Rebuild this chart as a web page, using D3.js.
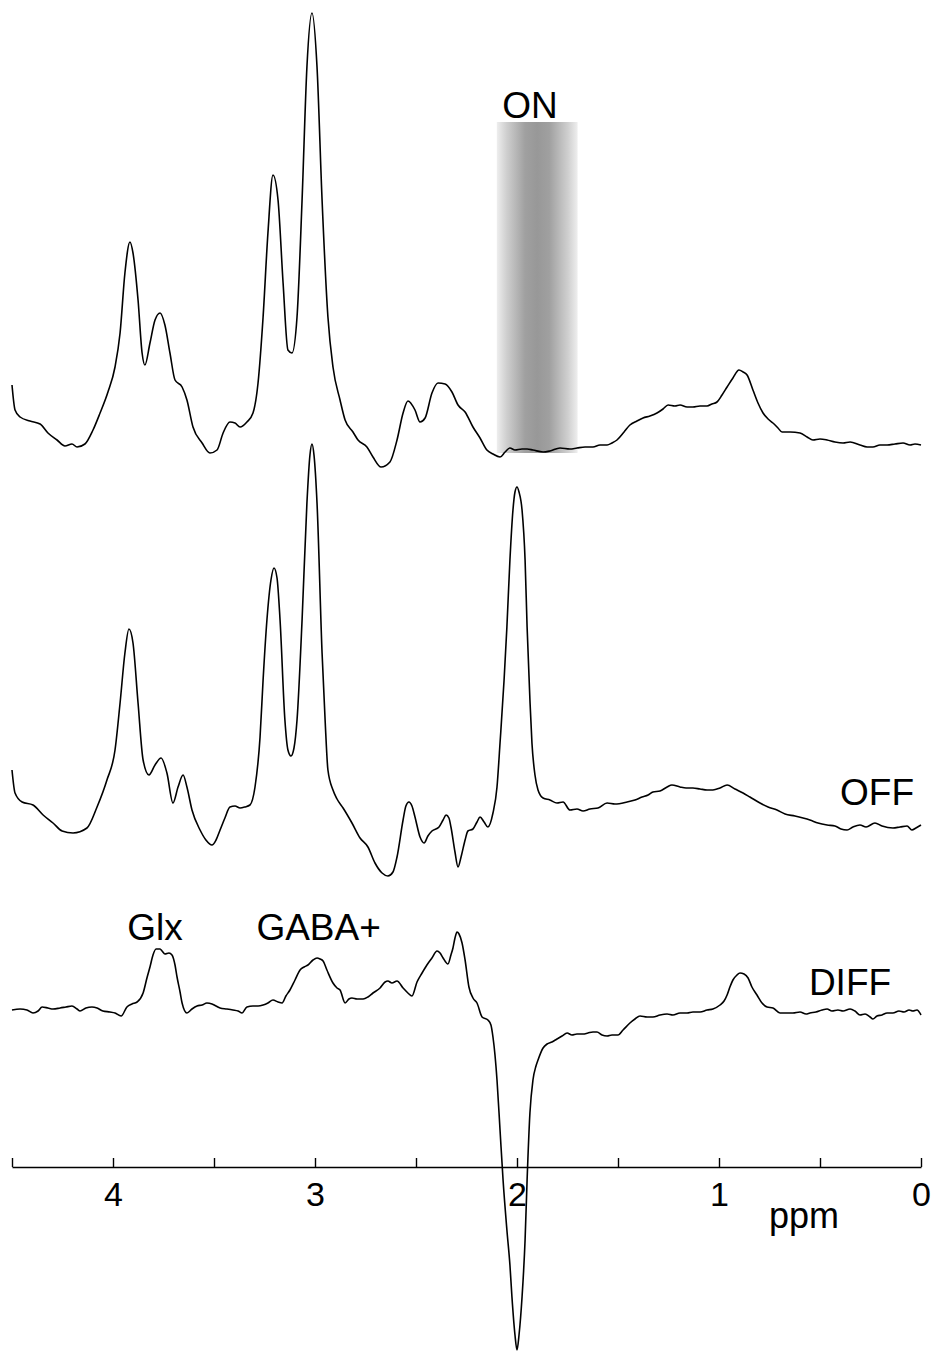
<!DOCTYPE html>
<html>
<head>
<meta charset="utf-8">
<script src="https://cdn.jsdelivr.net/npm/d3@7"></script>
<style>
  html, body { margin: 0; padding: 0; background: #fff; }
  svg { display: block; }
  text { font-family: "Liberation Sans", Arial, Helvetica, sans-serif; fill: #000; }
</style>
</head>
<body>
<svg id="chart" width="934" height="1355"></svg>
<script>
// ---------------- DATA ----------------
// chemical shift axis (ppm) and tick values
const axisDomain = [4.5, 0];
const tickValues = [4.5, 4, 3.5, 3, 2.5, 2, 1.5, 1, 0.5, 0];
const tickLabels = ["", "4", "", "3", "", "2", "", "1", "", "0"];
const axisTitle = "ppm";

// spectrum labels
const seriesNames = ["ON", "OFF", "DIFF"];
const peakLabels = ["Glx", "GABA+"];
const peakLabelPpm = [3.93, 3.29];

// editing pulse band (ppm)
const editBand = [2.1, 1.7];
const editBandTop = 32.3;   // a.u. on ON spectrum
const editBandBottom = -0.8;

// ON spectrum (ppm, intensity a.u.)
const onPpm = [4.500,4.485,4.460,4.411,4.361,4.322,4.277,4.238,4.203,4.178,4.139,4.099,4.064,4.025,3.990,3.965,3.941,3.916,3.901,3.876,3.856,3.842,3.817,3.792,3.767,3.743,3.718,3.693,3.658,3.634,3.604,3.559,3.520,3.485,3.455,3.421,3.396,3.371,3.337,3.307,3.282,3.257,3.233,3.208,3.183,3.158,3.134,3.114,3.089,3.064,3.040,3.015,2.990,2.965,2.936,2.911,2.876,2.851,2.812,2.787,2.743,2.713,2.673,2.629,2.594,2.564,2.540,2.505,2.480,2.455,2.421,2.391,2.356,2.322,2.292,2.257,2.218,2.183,2.149,2.119,2.084,2.059,2.035,2.010,1.975,1.950,1.921,1.871,1.837,1.787,1.738,1.703,1.663,1.624,1.589,1.554,1.530,1.505,1.470,1.441,1.406,1.376,1.342,1.307,1.277,1.252,1.218,1.193,1.158,1.129,1.094,1.059,1.035,1.010,0.985,0.960,0.931,0.901,0.881,0.861,0.832,0.807,0.782,0.757,0.733,0.708,0.688,0.648,0.599,0.564,0.535,0.500,0.465,0.426,0.386,0.351,0.302,0.267,0.238,0.203,0.168,0.129,0.089,0.054,0.030,0.000];
const onInt = [6.0,3.5,2.8,2.4,2.1,1.2,0.5,-0.1,0.1,-0.2,0.1,1.5,3.2,5.3,7.8,11.2,17.2,20.3,19.2,14.5,9.2,8.0,10.2,12.5,13.2,12.0,9.2,6.5,5.8,4.5,1.8,0.2,-0.8,-0.5,1.2,2.3,2.2,1.8,2.3,3.2,6.2,12.8,21.2,27.0,24.5,16.2,9.5,9.2,12.8,24.5,37.8,43.2,37.8,24.5,12.8,7.8,4.5,2.5,1.3,0.5,-0.2,-1.2,-2.2,-1.7,0.5,3.2,4.4,3.5,2.3,2.7,5.2,6.2,6.1,5.3,4.0,3.3,1.8,0.7,-0.5,-0.9,-1.2,-0.7,-0.3,-0.5,-0.4,-0.4,-0.5,-0.7,-0.6,-0.3,-0.4,-0.3,-0.2,-0.2,0.0,0.0,0.2,0.5,1.3,2.0,2.4,2.7,2.9,3.2,3.6,4.0,3.9,4.0,3.8,3.8,3.9,3.9,4.1,4.3,5.0,5.8,6.7,7.5,7.3,7.0,5.5,4.2,3.2,2.6,2.2,1.7,1.3,1.3,1.2,0.8,0.5,0.6,0.5,0.3,0.2,0.3,0.0,-0.2,-0.2,0.0,0.0,0.1,0.2,0.0,0.1,0.0];

// OFF spectrum
const offPpm = [4.500,4.485,4.450,4.396,4.346,4.297,4.252,4.198,4.129,4.079,4.030,3.990,3.965,3.941,3.921,3.901,3.876,3.851,3.822,3.792,3.762,3.733,3.703,3.678,3.653,3.634,3.609,3.569,3.540,3.510,3.490,3.470,3.446,3.421,3.396,3.371,3.347,3.322,3.297,3.272,3.257,3.238,3.218,3.203,3.188,3.173,3.149,3.134,3.119,3.104,3.089,3.064,3.040,3.025,3.015,3.005,2.990,2.965,2.950,2.936,2.911,2.891,2.861,2.817,2.777,2.738,2.703,2.668,2.639,2.614,2.594,2.564,2.550,2.535,2.520,2.505,2.480,2.460,2.441,2.421,2.386,2.366,2.351,2.337,2.327,2.307,2.292,2.277,2.257,2.243,2.218,2.198,2.183,2.163,2.144,2.119,2.099,2.084,2.064,2.050,2.035,2.020,2.010,2.000,1.990,1.975,1.960,1.950,1.936,1.926,1.911,1.896,1.871,1.837,1.802,1.772,1.738,1.703,1.673,1.639,1.599,1.554,1.515,1.455,1.416,1.381,1.351,1.327,1.292,1.257,1.233,1.193,1.163,1.129,1.094,1.059,1.030,0.995,0.960,0.921,0.881,0.847,0.797,0.757,0.713,0.673,0.624,0.584,0.550,0.510,0.465,0.426,0.396,0.366,0.337,0.302,0.272,0.228,0.193,0.139,0.104,0.069,0.045,0.025,0.000];
const offInt = [5.7,3.4,2.5,2.2,1.2,0.4,-0.4,-0.6,-0.1,2.0,4.7,7.7,12.4,17.4,19.8,18.4,12.4,6.7,5.2,6.2,6.9,5.4,2.4,4.0,5.2,4.0,1.7,-0.3,-1.3,-1.8,-1.3,-0.3,0.9,2.0,2.1,1.9,2.0,2.2,4.0,9.0,14.7,20.7,24.7,25.9,24.9,20.7,10.7,7.7,7.1,7.9,10.7,20.7,32.4,37.2,38.3,37.2,32.4,17.4,10.7,5.7,3.7,2.8,1.9,0.4,-1.1,-2.0,-3.6,-4.6,-4.9,-4.5,-3.0,0.7,2.1,2.5,2.1,1.0,-1.0,-1.6,-0.9,-0.4,0.0,0.7,1.2,0.9,0.0,-2.5,-4.0,-3.0,-1.3,-0.4,-0.2,0.5,1.0,0.5,0.0,1.4,4.0,8.4,14.7,20.0,26.7,31.7,33.5,34.0,33.5,31.7,26.7,20.0,12.7,8.4,5.2,3.7,2.9,2.7,2.4,2.5,1.7,1.8,1.6,1.8,1.9,2.4,2.3,2.5,2.7,3.0,3.2,3.5,3.6,4.0,4.2,4.0,3.9,3.9,3.8,3.7,3.7,3.9,4.2,3.8,3.4,3.0,2.4,2.0,1.7,1.3,1.1,0.9,0.7,0.4,0.2,0.1,-0.2,-0.3,0.0,0.2,0.0,0.4,0.1,-0.1,0.0,0.1,-0.3,-0.1,0.2];

// DIFF spectrum
const diffPpm = [4.500,4.460,4.426,4.396,4.371,4.351,4.322,4.297,4.262,4.233,4.203,4.178,4.163,4.134,4.104,4.079,4.050,4.015,3.990,3.960,3.931,3.906,3.881,3.851,3.832,3.817,3.802,3.787,3.767,3.757,3.743,3.723,3.708,3.693,3.683,3.668,3.658,3.634,3.609,3.584,3.559,3.535,3.510,3.490,3.470,3.436,3.406,3.381,3.361,3.337,3.307,3.282,3.257,3.233,3.208,3.183,3.163,3.144,3.124,3.099,3.074,3.054,3.035,3.010,2.990,2.975,2.960,2.941,2.911,2.891,2.876,2.851,2.832,2.817,2.792,2.762,2.738,2.713,2.678,2.653,2.639,2.619,2.594,2.564,2.540,2.520,2.495,2.470,2.446,2.421,2.396,2.381,2.366,2.342,2.327,2.317,2.307,2.297,2.287,2.272,2.257,2.238,2.218,2.198,2.173,2.144,2.129,2.119,2.109,2.099,2.084,2.069,2.050,2.035,2.025,2.010,2.000,1.990,1.975,1.960,1.950,1.936,1.921,1.906,1.896,1.871,1.851,1.827,1.802,1.777,1.752,1.728,1.703,1.673,1.649,1.624,1.604,1.579,1.554,1.530,1.500,1.475,1.441,1.416,1.391,1.356,1.327,1.292,1.257,1.228,1.193,1.158,1.129,1.094,1.059,1.030,0.995,0.975,0.960,0.946,0.931,0.911,0.896,0.876,0.856,0.837,0.812,0.787,0.762,0.733,0.698,0.663,0.634,0.599,0.569,0.550,0.520,0.490,0.465,0.441,0.411,0.386,0.351,0.327,0.302,0.277,0.252,0.238,0.218,0.193,0.168,0.139,0.109,0.084,0.059,0.040,0.020,0.000];
const diffInt = [0.2,0.3,0.2,-0.1,0.1,0.5,0.4,0.3,0.4,0.5,0.6,0.3,0.1,0.4,0.5,0.4,0.1,0.0,-0.1,-0.4,0.5,0.8,1.0,1.9,3.4,4.5,5.7,6.3,6.3,6.1,5.8,5.9,5.7,4.7,3.5,2.0,0.9,-0.1,0.3,0.6,0.7,0.9,0.8,0.6,0.4,0.3,0.2,0.1,-0.1,0.5,0.6,0.6,0.7,0.9,1.2,1.0,0.9,1.6,2.2,3.2,4.2,4.5,4.7,5.2,5.4,5.3,5.1,4.2,2.9,2.4,2.2,0.9,1.3,1.4,1.3,1.3,1.5,1.9,2.4,3.0,3.1,2.9,3.1,2.4,1.9,1.6,3.0,3.9,4.7,5.4,6.1,5.9,5.4,4.8,5.7,6.4,7.4,8.0,7.8,6.9,5.2,2.5,1.4,0.9,-0.5,-0.8,-1.3,-2.5,-4.3,-6.8,-11.8,-16.8,-21.8,-25.3,-28.5,-32.3,-33.8,-32.3,-28.5,-22.8,-16.8,-10.1,-6.8,-5.4,-4.8,-3.6,-3.2,-3.0,-2.7,-2.4,-2.1,-2.3,-2.2,-2.2,-2.1,-2.0,-2.0,-2.3,-2.4,-2.3,-2.3,-1.8,-1.1,-0.7,-0.4,-0.5,-0.5,-0.3,-0.2,-0.3,-0.1,-0.1,0.0,0.0,0.2,0.3,0.7,1.1,1.7,2.5,3.2,3.7,3.9,3.8,3.4,2.5,1.7,0.9,0.5,0.4,-0.1,-0.1,-0.1,0.0,-0.2,-0.1,0.0,0.2,0.3,0.1,0.2,0.1,0.3,0.1,-0.3,-0.2,-0.5,-0.7,-0.4,-0.3,-0.1,-0.1,0.1,0.0,0.2,0.1,0.2,-0.3];

// ---------------- LAYOUT ----------------
const svg = d3.select("#chart");
const x = d3.scaleLinear().domain(axisDomain).range([12, 921]);
// stacked display: each spectrum has its own baseline (vertical offset)
const pxPerUnit = 10;
const baselines = { ON: 445, OFF: 827, DIFF: 1012 };
const yFor = name => d3.scaleLinear().domain([0, 1]).range([baselines[name], baselines[name] - pxPerUnit]);

// gradient for editing band
const defs = svg.append("defs");
const grad = defs.append("linearGradient").attr("id", "band").attr("x1", "0%").attr("x2", "100%").attr("y1", "0%").attr("y2", "0%");
[[0, "#eeeeee"], [0.12, "#cfcfcf"], [0.35, "#a0a0a0"], [0.5, "#989898"], [0.65, "#a0a0a0"], [0.88, "#cfcfcf"], [1, "#eeeeee"]]
  .forEach(([o, c]) => grad.append("stop").attr("offset", o).attr("stop-color", c));

const yOn = yFor("ON");
svg.append("rect")
  .attr("x", x(editBand[0]))
  .attr("width", x(editBand[1]) - x(editBand[0]))
  .attr("y", yOn(editBandTop))
  .attr("height", yOn(editBandBottom) - yOn(editBandTop))
  .attr("fill", "url(#band)");

const series = [
  { name: "ON", ppm: onPpm, val: onInt },
  { name: "OFF", ppm: offPpm, val: offInt },
  { name: "DIFF", ppm: diffPpm, val: diffInt }
];

series.forEach(s => {
  const y = yFor(s.name);
  const pts = s.ppm.map((p, i) => [p, s.val[i]]);
  const line = d3.line().x(d => x(d[0])).y(d => y(d[1])).curve(d3.curveMonotoneX);
  svg.append("path")
    .attr("d", line(pts))
    .attr("fill", "none")
    .attr("stroke", "#000")
    .attr("stroke-width", 1.6)
    .attr("stroke-linejoin", "round");
});

// axis
const axisY = 1167;
const axis = d3.axisBottom(x)
  .tickValues(tickValues)
  .tickSize(-9)
  .tickSizeOuter(0)
  .tickPadding(14)
  .tickFormat((d, i) => tickLabels[i]);
const gAxis = svg.append("g").attr("transform", `translate(0,${axisY})`).call(axis);
gAxis.select(".domain").attr("stroke", "#000").attr("stroke-width", 1.4);
gAxis.selectAll(".tick line").attr("stroke", "#000").attr("stroke-width", 1.4);
gAxis.selectAll(".tick text")
  .attr("y", 39)
  .attr("dy", 0)
  .style("font-size", "34px")
  .style("font-family", "Liberation Sans, Arial, sans-serif")
  .attr("fill", "#000");

svg.append("text").attr("x", 804).attr("y", 1228).attr("text-anchor", "middle")
  .style("font-size", "36px").text(axisTitle);

// labels
const labelFont = "37px";
svg.append("text").attr("x", 530).attr("y", 118).attr("text-anchor", "middle").style("font-size", labelFont).text(seriesNames[0]);
svg.append("text").attr("x", 877).attr("y", 805).attr("text-anchor", "middle").style("font-size", labelFont).text(seriesNames[1]);
svg.append("text").attr("x", 850).attr("y", 995).attr("text-anchor", "middle").style("font-size", labelFont).text(seriesNames[2]);
peakLabels.forEach((t, i) => {
  svg.append("text").attr("x", x(peakLabelPpm[i])).attr("y", 940).attr("text-anchor", "start")
    .style("font-size", labelFont).text(t);
});
</script>
</body>
</html>
